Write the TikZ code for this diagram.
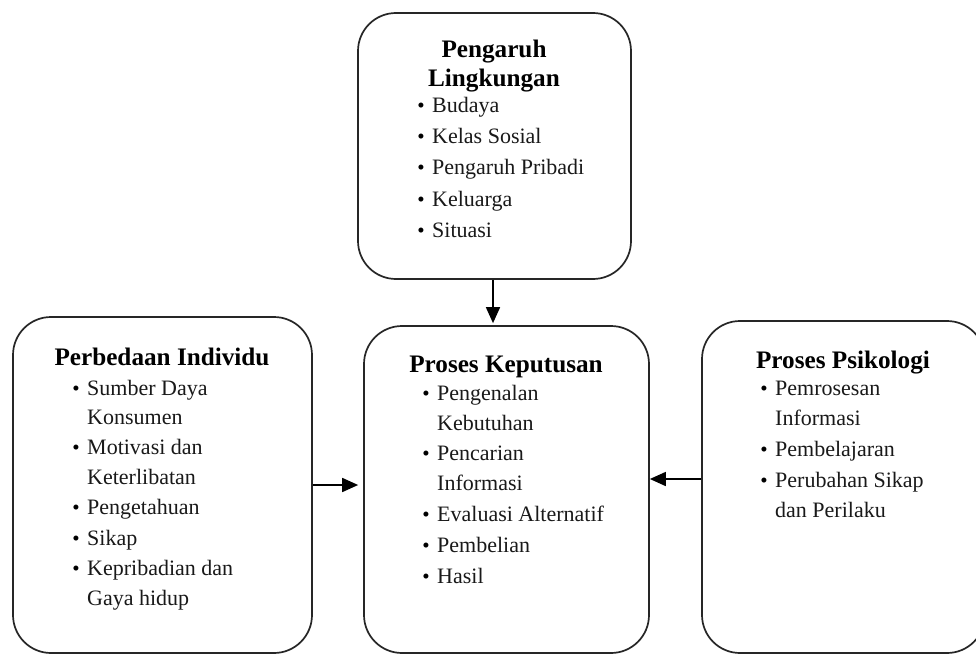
\documentclass[tikz,border=0pt]{standalone}
\usepackage{fontspec}
\setmainfont{Liberation Serif}
\usetikzlibrary{arrows.meta}
\tikzset{
  box/.style={draw=black!85, line width=1.7pt, rounded corners=38pt, fill=white, inner sep=0pt},
  ttl/.style={anchor=base, inner sep=0pt, font=\fontsize{25.2}{29}\selectfont\bfseries},
  itm/.style={anchor=base west, inner sep=0pt, font=\fontsize{22}{30}\selectfont, text=black!90},
  bul/.style={anchor=base, inner sep=0pt, font=\fontsize{21}{22}\selectfont},
  arr/.style={line width=1.7pt, -{Triangle[length=16pt,width=14pt]}}
}
\newcommand\bitem[5]{\node[bul] (#1-b) at (#2,#4) {•}; \node[itm] (#1) at (#3,#4) {#5};}
\newcommand\citem[4]{\node[itm] (#1) at (#2,#3) {#4};}
\begin{document}
\begin{tikzpicture}[x=1pt,y=-1pt]
\useasboundingbox (0,0) rectangle (976,655);
\begin{scope}
\clip (0,0) rectangle (976,655);
% boxes
\node[box, minimum width=273pt, minimum height=266pt] (T) at (494.5,146) {};
\node[box, minimum width=299pt, minimum height=336pt] (L) at (162.5,485) {};
\node[box, minimum width=285pt, minimum height=327pt] (M) at (506.5,489.5) {};
\node[box, minimum width=283pt, minimum height=332pt] (R) at (843.5,487) {};
\end{scope}
% top box text
\node[ttl] (t1) at (494,58) {Pengaruh};
\node[ttl] (t2) at (494,87) {Lingkungan};
\bitem{ta}{421}{432}{113}{Budaya}
\bitem{tb}{421}{432}{144}{Kelas Sosial}
\bitem{tc}{421}{432}{175}{Pengaruh Pribadi}
\bitem{td}{421}{432}{206}{Keluarga}
\bitem{te}{421}{432}{237}{Situasi}
% left box text
\node[ttl] (l1) at (162,365) {Perbedaan Individu};
\bitem{la}{76}{87}{395}{Sumber Daya}
\citem{lb}{87}{424}{Konsumen}
\bitem{lc}{76}{87}{454}{Motivasi dan}
\citem{ld}{87}{484}{Keterlibatan}
\bitem{le}{76}{87}{514}{Pengetahuan}
\bitem{lf}{76}{87}{545}{Sikap}
\bitem{lg}{76}{87}{575}{Kepribadian dan}
\citem{lh}{87}{605}{Gaya hidup}
% middle box text
\node[ttl] (m1) at (506,372) {Proses Keputusan};
\bitem{ma}{426}{437}{400}{Pengenalan}
\citem{mb}{437}{430}{Kebutuhan}
\bitem{mc}{426}{437}{460}{Pencarian}
\citem{md}{437}{490}{Informasi}
\bitem{me}{426}{437}{521}{Evaluasi Alternatif}
\bitem{mf}{426}{437}{552}{Pembelian}
\bitem{mg}{426}{437}{583}{Hasil}
% right box text
\node[ttl] (r1) at (843,368) {Proses Psikologi};
\bitem{ra}{764}{775}{395}{Pemrosesan}
\citem{rb}{775}{425}{Informasi}
\bitem{rc}{764}{775}{456}{Pembelajaran}
\bitem{rd}{764}{775}{487}{Perubahan Sikap}
\citem{re}{775}{517}{dan Perilaku}
% connectors
\draw[arr, shorten >=2pt] ([xshift=-1.5pt]T.south) -- ([xshift=-1.5pt]T.south |- M.north);
\draw[arr, shorten >=5pt] (L.east) -- (L.east -| M.west);
\draw[arr] ([yshift=8pt]R.west) -- ([yshift=8pt]R.west -| M.east);
\end{tikzpicture}
\end{document}
